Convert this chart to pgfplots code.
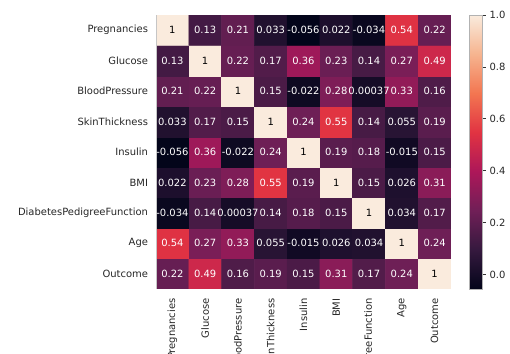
\documentclass[border=0pt]{standalone}
\usepackage{pgfplots}
\pgfplotsset{compat=1.18}
\usepackage{pgfplotstable}
\usepackage{fontspec}
\setmainfont{DejaVu Sans}
\pgfplotstableread{
x y c lab
0 0 0.22 0.22
1 0 0.49 0.49
2 0 0.16 0.16
3 0 0.19 0.19
4 0 0.15 0.15
5 0 0.31 0.31
6 0 0.17 0.17
7 0 0.24 0.24
8 0 1 1
0 1 0.54 0.54
1 1 0.27 0.27
2 1 0.33 0.33
3 1 0.055 0.055
4 1 -0.015 -0.015
5 1 0.026 0.026
6 1 0.034 0.034
7 1 1 1
8 1 0.24 0.24
0 2 -0.034 -0.034
1 2 0.14 0.14
2 2 0.00037 0.00037
3 2 0.14 0.14
4 2 0.18 0.18
5 2 0.15 0.15
6 2 1 1
7 2 0.034 0.034
8 2 0.17 0.17
0 3 0.022 0.022
1 3 0.23 0.23
2 3 0.28 0.28
3 3 0.55 0.55
4 3 0.19 0.19
5 3 1 1
6 3 0.15 0.15
7 3 0.026 0.026
8 3 0.31 0.31
0 4 -0.056 -0.056
1 4 0.36 0.36
2 4 -0.022 -0.022
3 4 0.24 0.24
4 4 1 1
5 4 0.19 0.19
6 4 0.18 0.18
7 4 -0.015 -0.015
8 4 0.15 0.15
0 5 0.033 0.033
1 5 0.17 0.17
2 5 0.15 0.15
3 5 1 1
4 5 0.24 0.24
5 5 0.55 0.55
6 5 0.14 0.14
7 5 0.055 0.055
8 5 0.19 0.19
0 6 0.21 0.21
1 6 0.22 0.22
2 6 1 1
3 6 0.15 0.15
4 6 -0.022 -0.022
5 6 0.28 0.28
6 6 0.00037 0.00037
7 6 0.33 0.33
8 6 0.16 0.16
0 7 0.13 0.13
1 7 1 1
2 7 0.22 0.22
3 7 0.17 0.17
4 7 0.36 0.36
5 7 0.23 0.23
6 7 0.14 0.14
7 7 0.27 0.27
8 7 0.49 0.49
0 8 1 1
1 8 0.13 0.13
2 8 0.21 0.21
3 8 0.033 0.033
4 8 -0.056 -0.056
5 8 0.022 0.022
6 8 -0.034 -0.034
7 8 0.54 0.54
8 8 0.22 0.22
}\corr
\begin{document}
\begin{tikzpicture}
\path[use as bounding box] (0,0) rectangle (510bp,-354bp);
\begin{axis}[
  at={(156bp,-15bp)}, anchor=north west,
  scale only axis, width=295bp, height=274bp,
  xmin=-0.5, xmax=8.5, ymin=-0.5, ymax=8.5,
  enlargelimits=false,
  axis line style={draw=none},
  major tick length=0pt,
  font=\fontsize{10}{12}\selectfont,
  xtick={0,...,8}, ytick={0,...,8},
  xticklabels={Pregnancies,Glucose,BloodPressure,SkinThickness,Insulin,BMI,DiabetesPedigreeFunction,Age,Outcome},
  yticklabels={Outcome,Age,DiabetesPedigreeFunction,BMI,Insulin,SkinThickness,BloodPressure,Glucose,Pregnancies},
  xticklabel style={rotate=90, anchor=east, text=black!85},
  yticklabel style={text=black!85},
  xticklabel shift=6bp, yticklabel shift=4.5bp,
  colormap={rocket}{rgb255=(3,5,26) rgb255=(53,25,62) rgb255=(112,31,87) rgb255=(173,23,89) rgb255=(225,51,66) rgb255=(243,118,81) rgb255=(246,180,143) rgb255=(250,235,221)},
  point meta min=-0.056, point meta max=1,
  colorbar,
  colorbar style={
    at={(parent axis.north east)}, anchor=north west, xshift=10bp,
    scale only axis, width=13bp, height=274bp,
    ytick={0,0.2,0.4,0.6,0.8,1.0},
    ytick pos=right, yticklabel pos=right,
    tick align=outside, major tick length=3.5bp,
    tick style={black!80, line width=0.6bp},
    axis line style={draw=gray!60, line width=0.4bp},
    font=\fontsize{10}{12}\selectfont,
    yticklabel style={text=black!85, /pgf/number format/fixed, /pgf/number format/fixed zerofill, /pgf/number format/precision=1, /pgf/number format/assume math mode=true},
  },
]
\addplot[matrix plot*, mesh/cols=9, mesh/ordering=x varies, point meta=explicit] table[x=x, y=y, meta=c] {\corr};
\addplot[only marks, mark=none, point meta=explicit symbolic,
  visualization depends on={\thisrow{c} \as \cval},
  nodes near coords,
  every node near coord/.style={anchor=center, inner sep=0pt, font=\fontsize{10}{12}\selectfont, text=white},
  every node near coord/.append code={\ifdim\cval pt>0.9pt\relax\pgfkeysalso{text=black}\fi}]
  table[x=x, y=y, meta=lab] {\corr};
\draw[gray!45, line width=0.5bp] (rel axis cs:0,1) -- (rel axis cs:0,0) -- (rel axis cs:1,0);
\end{axis}
\end{tikzpicture}
\end{document}
